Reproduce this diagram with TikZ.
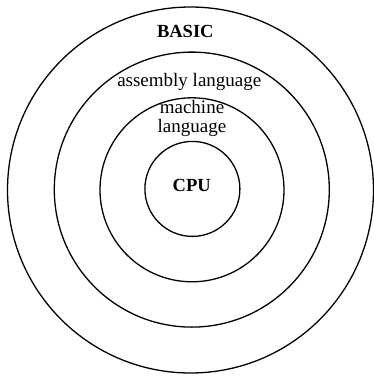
\documentclass[tikz,border=0pt]{standalone}
\usepackage{fontspec}
\setmainfont{Liberation Serif}
\begin{document}
\begin{tikzpicture}[x=1pt,y=-1pt,
  ring/.style={draw=black,line width=1.3pt,circle,inner sep=0pt},
  lbl/.style={inner sep=0pt,font=\fontsize{19}{20}\selectfont,align=center},
  blbl/.style={lbl,font=\fontsize{18.5}{20}\selectfont\bfseries}]
\useasboundingbox (0,0) rectangle (374,376);
\node[ring,minimum size=366pt] (outer) at (190.5,190) {};
\node[ring,minimum size=275pt] (asm) at (191.8,189.6) {};
\node[ring,minimum size=184pt] (mach) at (192,189.8) {};
\node[ring,minimum size=95pt] (cpu) at (192.4,188.9) {};
\node[blbl] (basic) at (185.3,31.5) {BASIC};
\node[lbl] (asmt) at (189.3,81.5) {assembly language};
\node[lbl,font=\fontsize{19}{18.7}\selectfont] (macht) at (192,118.8) {machine\\language};
\node[blbl] (cput) at (191.7,185.5) {CPU};
\end{tikzpicture}
\end{document}
